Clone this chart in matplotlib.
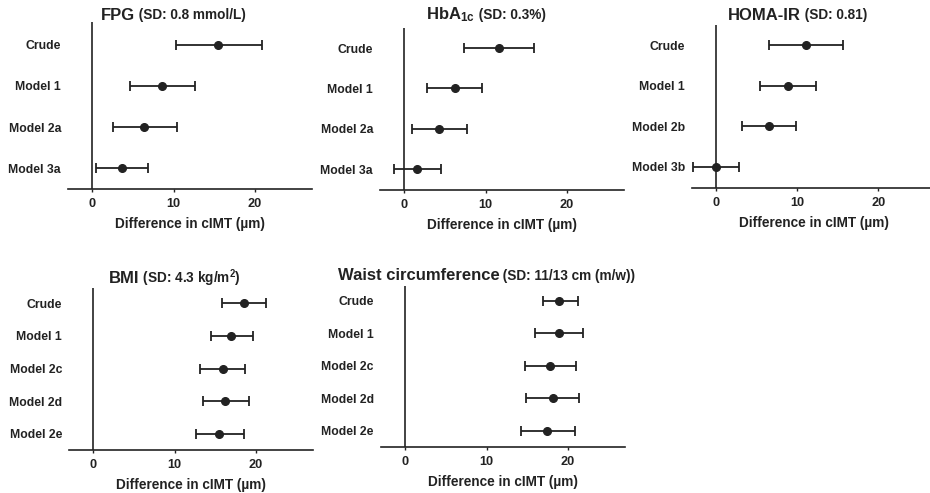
"""
Forest-style panels: difference in cIMT per SD of glycaemic / adiposity markers.
"""

import matplotlib
matplotlib.use("Agg")
import matplotlib.pyplot as plt

plt.rcParams["font.family"] = ["Liberation Sans", "DejaVu Sans"]
plt.rcParams["font.weight"] = "bold"
plt.rcParams["mathtext.fontset"] = "custom"
plt.rcParams["mathtext.rm"] = "Liberation Sans:bold"
plt.rcParams["mathtext.it"] = "Liberation Sans:bold"
plt.rcParams["mathtext.bf"] = "Liberation Sans:bold"

INK = "#222222"

# FPG
fpg_models = ["Crude", "Model 1", "Model 2a", "Model 3a"]
fpg_est = [15.5, 8.6, 6.4, 3.6]
fpg_lo = [10.3, 4.6, 2.5, 0.4]
fpg_hi = [20.9, 12.7, 10.4, 6.9]

# HbA1c
hba_models = ["Crude", "Model 1", "Model 2a", "Model 3a"]
hba_est = [11.7, 6.2, 4.3, 1.5]
hba_lo = [7.35, 2.8, 0.95, -1.3]
hba_hi = [16.0, 9.5, 7.7, 4.5]

# HOMA-IR
homa_models = ["Crude", "Model 1", "Model 2b", "Model 3b"]
homa_est = [11.1, 8.8, 6.5, 0.0]
homa_lo = [6.5, 5.35, 3.25, -2.9]
homa_hi = [15.6, 12.3, 9.8, 2.8]

# BMI
bmi_models = ["Crude", "Model 1", "Model 2c", "Model 2d", "Model 2e"]
bmi_est = [18.55, 17.0, 16.0, 16.25, 15.5]
bmi_lo = [15.85, 14.5, 13.1, 13.5, 12.6]
bmi_hi = [21.3, 19.7, 18.7, 19.1, 18.5]

# Waist circumference
waist_models = ["Crude", "Model 1", "Model 2c", "Model 2d", "Model 2e"]
waist_est = [18.95, 18.85, 17.75, 18.15, 17.4]
waist_lo = [16.9, 16.0, 14.75, 14.9, 14.2]
waist_hi = [21.2, 21.8, 20.95, 21.35, 20.8]

x_ticks = [0, 10, 20]
x_label = "Difference in cIMT (\u00b5m)"

W, H = 930, 493
fig = plt.figure(figsize=(W / 100, H / 100), dpi=100)


def px_axes(x0, y0, x1, y1):
    return fig.add_axes([x0 / W, 1 - y1 / H, (x1 - x0) / W, (y1 - y0) / H])


def forest(ax, models, est, lo, hi, ylim):
    ypos = list(range(len(models)))
    err = [[e - l for e, l in zip(est, lo)], [h - e for e, h in zip(est, hi)]]
    ax.errorbar(est, ypos, xerr=err, fmt="o", color=INK, ecolor=INK,
                markersize=5.5, elinewidth=1.3, capsize=3.3, capthick=1.3,
                zorder=3, clip_on=False)
    ax.axvline(0, color=INK, linewidth=1.2, zorder=2)
    ax.set_xlim(-3, 27)
    ax.set_ylim(*ylim)
    ax.set_xticks(x_ticks)
    ax.set_yticks(ypos)
    ax.set_yticklabels(models)
    for s in ["top", "right", "left"]:
        ax.spines[s].set_visible(False)
    ax.spines["bottom"].set_color(INK)
    ax.spines["bottom"].set_linewidth(1.2)
    ax.tick_params(axis="y", length=0, pad=5, labelsize=8.8, colors=INK)
    ax.tick_params(axis="x", length=2.5, width=1.0, pad=4, labelsize=9.2,
                   colors=INK)
    ax.set_xlabel(x_label, fontsize=9.8, fontweight="bold", color=INK,
                  labelpad=5)


def add_title(ax, main, sd):
    t1 = ax.text(10, 1.0, main, transform=ax.get_xaxis_transform(),
                 ha="left", va="baseline", fontsize=12, fontweight="bold",
                 color=INK)
    t2 = ax.text(10, 1.0, " " + sd, transform=ax.get_xaxis_transform(),
                 ha="left", va="baseline", fontsize=9.8, fontweight="bold",
                 color=INK)
    return t1, t2


panels = []

ax1 = px_axes(68, 22, 311.6, 189)
forest(ax1, fpg_models, fpg_est, fpg_lo, fpg_hi, (3.5, -0.55))
panels.append((ax1, add_title(ax1, "FPG", "(SD: 0.8 mmol/L)"), 19.5))

ax2 = px_axes(380, 28, 623.6, 190)
forest(ax2, hba_models, hba_est, hba_lo, hba_hi, (3.52, -0.5))
panels.append((ax2, add_title(ax2, r"HbA$_{\mathrm{1c}}$", "(SD: 0.3%)"), 19.5))

ax3 = px_axes(691.7, 25, 935.3, 188)
forest(ax3, homa_models, homa_est, homa_lo, homa_hi, (3.52, -0.5))
panels.append((ax3, add_title(ax3, "HOMA-IR", "(SD: 0.81)"), 19.5))

ax4 = px_axes(69, 287.7, 312.7, 450)
forest(ax4, bmi_models, bmi_est, bmi_lo, bmi_hi, (4.5, -0.48))
panels.append((ax4, add_title(ax4, "BMI", r"(SD: 4.3 kg/m$^{\mathrm{2}}$)"), 283))

ax5 = px_axes(380.7, 286, 625, 446.7)
forest(ax5, waist_models, waist_est, waist_lo, waist_hi, (4.5, -0.46))
panels.append((ax5, add_title(ax5, "Waist circumference",
                              "(SD: 11/13 cm (m/w))"), 280.5))

# place each two-part title on its baseline, centred on x = 10
fig.canvas.draw()
for ax, (t1, t2), base in panels:
    y_ax = ax.transAxes.inverted().transform((0, H - base))[1]
    t1.set_y(y_ax)
    t2.set_y(y_ax)
    w1 = t1.get_window_extent().width
    w2 = t2.get_window_extent().width
    cx = ax.transData.transform((10, 0))[0]
    x0 = cx - (w1 + w2) / 2
    inv = ax.transData.inverted()
    t1.set_x(inv.transform((x0, 0))[0])
    t2.set_x(inv.transform((x0 + w1, 0))[0])

fig.savefig("out.png", dpi=100)
